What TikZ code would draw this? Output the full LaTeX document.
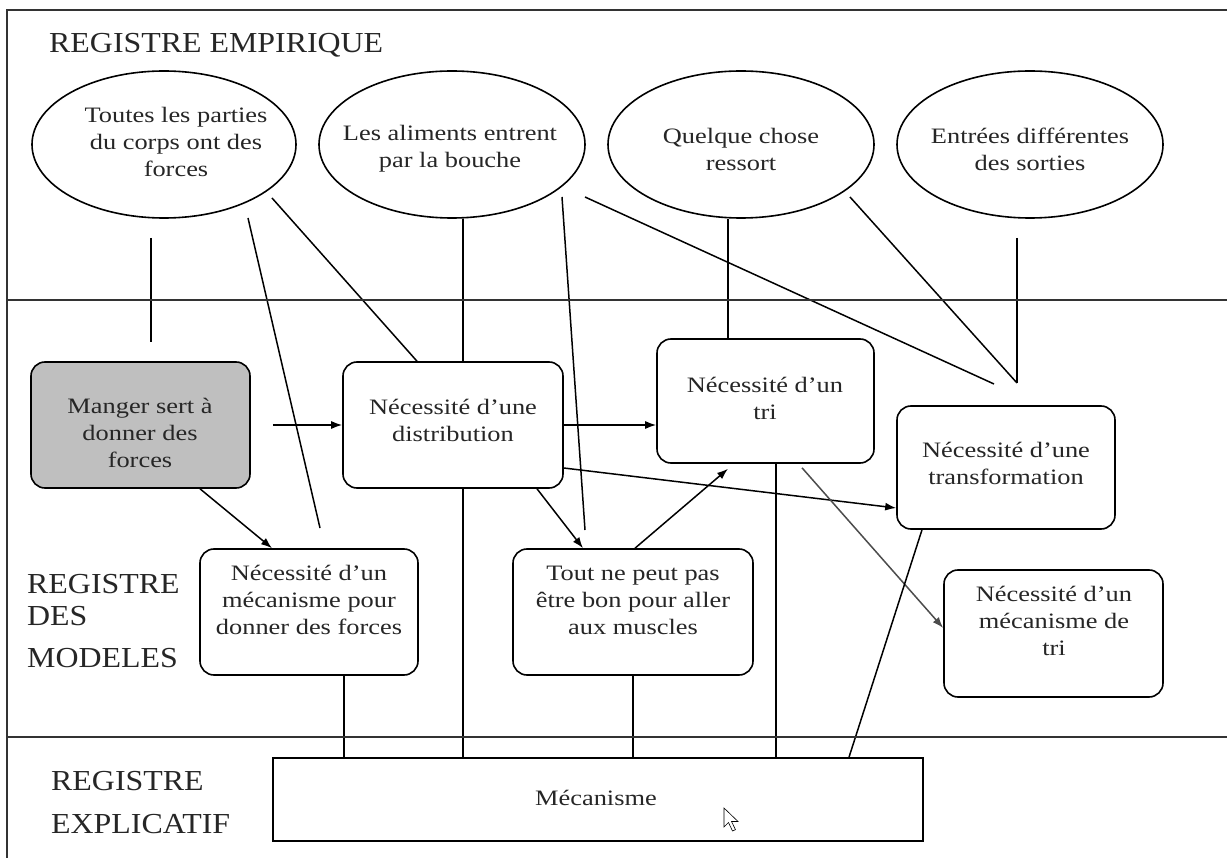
\documentclass[tikz,border=0pt]{standalone}
\usepackage{fontspec}
\setmainfont{Liberation Serif}
\newfontfamily\bodyfont{Liberation Serif}[FakeStretch=1.2]
\newfontfamily\headfont{Liberation Serif}[FakeStretch=1.1]
\usetikzlibrary{arrows.meta,shapes.geometric,calc}
\pgfdeclarelayer{bg}
\pgfsetlayers{bg,main}
\tikzset{
  ell/.style={ellipse, draw, line width=1.6pt, minimum width=266pt, minimum height=147pt, inner sep=0pt, fill=white},
  rbox/.style={draw, rounded corners=14pt, line width=1.6pt, fill=white, inner sep=0pt, minimum width=219pt, minimum height=126pt},
  txt/.style={align=center, font=\bodyfont\fontsize{22}{27}\selectfont, inner sep=0pt, text=black!85},
  head/.style={font=\headfont\fontsize{29}{32}\selectfont, inner sep=0pt, align=left, anchor=north west, text=black!85},
  conn/.style={line width=1.5pt},
  arr/.style={conn, -{Latex[length=11pt,width=8pt]}},
  frame/.style={line width=1.5pt, draw=black!80}
}
\begin{document}
\begin{tikzpicture}[x=1pt,y=-1pt]
\useasboundingbox (0,0) rectangle (1227,858);
% frame and registers
\draw[frame] (1227,10) -- (7,10) -- (7,858);
\draw[frame] (7,300) -- (1227,300);
\draw[frame] (7,737) -- (1227,737);
\node[head] (hEmp) at (49,33) {REGISTRE EMPIRIQUE};
\node[head] (hMod) at (27,574) {REGISTRE\\DES\\[10pt]MODELES};
\node[head] (hExp) at (51,771) {REGISTRE\\[11pt]EXPLICATIF};

% ellipses
\node[ell, minimum width=264pt] (e1) at (164,144.5) {};
\node[ell] (e2) at (452,144.5) {};
\node[ell] (e3) at (741,144.5) {};
\node[ell] (e4) at (1030,144.5) {};
\node[txt] (t1) at (176,142) {Toutes les parties\\du corps ont des\\forces};
\node[txt] (t2) at (450,149) {Les aliments entrent\\par la bouche};
\node[txt] (t3) at (741,149) {Quelque chose\\ressort};
\node[txt] (t4) at (1030,149) {Entrées différentes\\des sorties};

% boxes
\node[rbox, fill=black!25, minimum width=219pt] (A) at (140.5,425) {};
\node[rbox, minimum width=220pt] (B) at (453,425) {};
\node[rbox, minimum width=217pt, minimum height=124pt] (C) at (765.5,401) {};
\node[rbox, minimum width=218pt, minimum height=123pt] (D) at (1006,467.5) {};
\node[rbox, minimum width=218pt] (E) at (309,612) {};
\node[rbox, minimum width=240pt] (F) at (633,612) {};
\node[rbox, minimum width=219pt, minimum height=127pt] (G) at (1053.5,633.5) {};
\node[draw, line width=1.6pt, fill=white, minimum width=650pt, minimum height=83pt, inner sep=0pt] (H) at (598,799.5) {};

\node[txt] (tA) at (140,433) {Manger sert à\\donner des\\forces};
\node[txt] (tB) at (453,420) {Nécessité d’une\\distribution};
\node[txt] (tC) at (765,398) {Nécessité d’un\\tri};
\node[txt] (tD) at (1006,463) {Nécessité d’une\\transformation};
\node[txt] (tE) at (309,600) {Nécessité d’un\\mécanisme pour\\donner des forces};
\node[txt] (tF) at (633,600) {Tout ne peut pas\\être bon pour aller\\aux muscles};
\node[txt] (tG) at (1054,621) {Nécessité d’un\\mécanisme de\\tri};
\node[txt] (tH) at (596,798) {Mécanisme};

% free ends
\coordinate (p1a) at (151,238);
\coordinate (p1b) at (151,342);
\coordinate (p2a) at (248,218);
\coordinate (p2b) at (320,528);
\coordinate (p3a) at (272,198);
\coordinate (p5a) at (562,197);
\coordinate (p5b) at (585,530);
\coordinate (p6a) at (585,197);
\coordinate (pJ1) at (994,384);
\coordinate (p8a) at (850,197);
\coordinate (pJ2) at (1017,383);
\coordinate (p9a) at (1017,238);

\begin{pgfonlayer}{bg}
\draw[conn] (p1a) -- (p1b);
\draw[conn] (p2a) -- (p2b);
\draw[conn] (p3a) -- ([xshift=-36pt]B.north);
\draw[conn] ([xshift=11pt]e2.south) -- ([xshift=11pt]e2.south |- H.north);
\draw[conn] (p5a) -- (p5b);
\draw[conn] (p6a) -- (pJ1);
\draw[conn] ([xshift=-13pt]e3.south) -- ([xshift=-13pt]e3.south |- C.north);
\draw[conn] (p8a) -- (pJ2);
\draw[conn] (p9a) -- (pJ2);
\draw[arr] ([xshift=22pt]A.east) -- (B.west);
\draw[arr] ([xshift=59.5pt]A.south) -- ([xshift=-37pt]E.north);
\draw[arr] (B.east) -- (B.east -| C.west);
\draw[arr] ([xshift=84pt]B.south) -- ([xshift=-50pt]F.north);
\draw[arr] ([xshift=2pt]F.north) -- ([xshift=-37.5pt,yshift=-5pt]C.south);
\draw[arr] ([yshift=-43pt]B.east) -- ([yshift=-40.5pt]D.west);
\draw[arr, draw=black!70, fill=black!70] ([xshift=36.5pt,yshift=-4pt]C.south) -- ([yshift=5.5pt]G.west);
\draw[conn] ([xshift=10.5pt]C.south) -- ([xshift=10.5pt]C.south |- H.north);
\draw[conn] ([xshift=-84pt]D.south) -- ([xshift=251pt]H.north);
\draw[conn] ([xshift=35pt]E.south) -- ([xshift=35pt]E.south |- H.north);
\draw[conn] (F.south) -- (F.south |- H.north);
\end{pgfonlayer}

% mouse pointer
\draw[line width=0.6pt, fill=white] (724,808) -- ++(0,19) -- ++(4.5,-4.5) -- ++(4,8.5) -- ++(3,-1.3) -- ++(-4,-8.2) -- ++(6.5,0) -- cycle;
\end{tikzpicture}
\end{document}
